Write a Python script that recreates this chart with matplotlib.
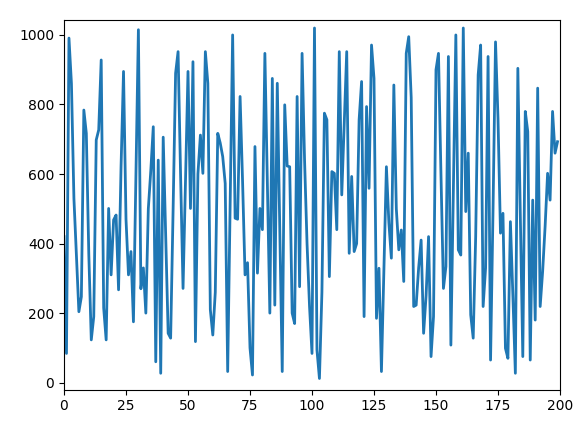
import numpy as np
import matplotlib
matplotlib.use("Agg")
import matplotlib.pyplot as plt

# values, one per step on the x axis
values = [420, 84, 991, 860, 530, 370, 204, 247, 784, 717,
          370, 123, 190, 698, 727, 928, 215, 123, 501, 310,
          468, 482, 267, 620, 895, 470, 310, 377, 175, 600,
          1015, 270, 330, 200, 500, 610, 736, 60, 640, 27,
          706, 420, 142, 128, 500, 890, 952, 600, 271, 580,
          895, 501, 923, 118, 600, 712, 602, 952, 861, 210,
          137, 260, 717, 689, 650, 573, 32, 520, 1000, 473,
          470, 823, 580, 310, 345, 100, 22, 679, 315, 501,
          440, 947, 570, 200, 875, 223, 861, 450, 32, 799,
          623, 621, 200, 170, 823, 276, 947, 640, 400, 220,
          84, 1020, 94, 12, 260, 775, 756, 305, 607, 602,
          440, 952, 540, 750, 952, 372, 593, 377, 400, 756,
          866, 190, 794, 559, 971, 875, 185, 329, 32, 330,
          621, 460, 358, 856, 500, 382, 439, 291, 947, 995,
          820, 219, 223, 330, 410, 142, 250, 420, 75, 190,
          900, 947, 600, 271, 334, 938, 108, 554, 1000, 382,
          367, 1020, 492, 660, 195, 128, 420, 885, 971, 219,
          330, 938, 65, 500, 980, 760, 430, 487, 99, 70,
          463, 250, 27, 904, 480, 75, 780, 722, 65, 525,
          180, 847, 219, 320, 450, 602, 525, 780, 660, 693]
x = np.arange(len(values))

fig = plt.figure(figsize=(5.88, 4.21), dpi=100)
fig.subplots_adjust(left=64/588, right=560/588, top=1-20/421, bottom=1-389.6/421)
ax = fig.add_subplot(1, 1, 1)
ax.plot(x, values, linewidth=2)
ax.set_xlim(0, 200)
ax.set_ylim(-20, 1043)

fig.savefig("out.png", dpi=100)
